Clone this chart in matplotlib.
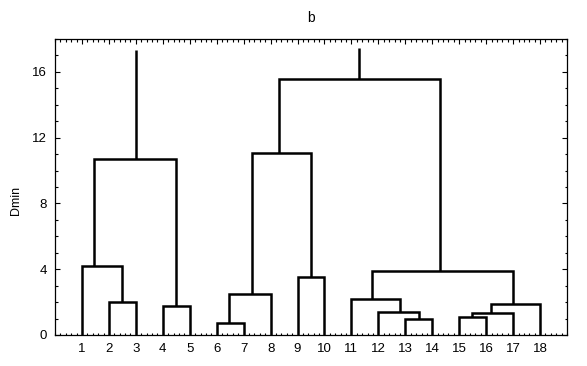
import matplotlib.pyplot as plt
from matplotlib.ticker import MultipleLocator

plt.rcParams['font.family'] = ['Liberation Sans', 'DejaVu Sans']

# leaves 1..18 on the x axis
leaves = list(range(1, 19))

# merges: name -> (left child, right child, merge height, x of the node's stem)
merge_names = ["A", "B", "C", "D", "E", "F", "G", "H",
               "I", "J", "K", "L", "M", "N", "O", "P"]
merge_left = [2, 1, 4, "B", 6, "E", 9, "F", 13, 12, 11, 15, "L", "M", "K", "H"]
merge_right = [3, "A", 5, "C", 7, 8, 10, "G", 14, "I", "J", 16, 17, 18, "N", "O"]
merge_height = [2.02, 4.2, 1.79, 10.72, 0.75, 2.5, 3.55, 11.08,
                0.97, 1.4, 2.19, 1.1, 1.36, 1.91, 3.9, 15.59]
merge_stem_x = [2.5, 1.46, 4.5, 3.0, 6.46, 7.3, 9.5, 8.32,
                13.5, 12.8, 11.76, 15.48, 16.18, 17.0, 14.29, 11.29]

# the two top clusters with the height their stem reaches
root_names = ["D", "P"]
root_top = [17.35, 17.45]

fig = plt.figure(figsize=(5.87, 3.66), dpi=100)
ax = fig.add_axes([0.0937, 0.0847, 0.8723, 0.8087])

pos = {leaf: (leaf, 0.0) for leaf in leaves}
for name, h, sx in zip(merge_names, merge_height, merge_stem_x):
    pos[name] = (sx, h)

lw = 1.8
for name, l, r, h in zip(merge_names, merge_left, merge_right, merge_height):
    xl, hl = pos[l]
    xr, hr = pos[r]
    ax.plot([xl, xl, xr, xr], [hl, h, h, hr], color="black", lw=lw,
            solid_joinstyle="miter", solid_capstyle="butt")

for name, top in zip(root_names, root_top):
    x, h = pos[name]
    ax.plot([x, x], [h, top], color="black", lw=lw, solid_capstyle="butt")

ax.set_xlim(0, 19)
ax.set_ylim(0, 18)
ax.set_xticks(leaves)
ax.set_xticklabels([str(i) for i in leaves])
ax.xaxis.set_minor_locator(MultipleLocator(0.2))
ax.set_yticks([0, 4, 8, 12, 16])
ax.yaxis.set_minor_locator(MultipleLocator(1))
ax.tick_params(which="both", direction="in", top=True, right=True,
               labelsize=9.5, width=0.8, color="black")
ax.tick_params(which="major", length=3.5, pad=6)
ax.tick_params(which="minor", length=1.8)
for s in ax.spines.values():
    s.set_linewidth(0.9)

ax.set_ylabel("Dmin", fontsize=9)
ax.yaxis.set_label_coords(-0.064, 0.456)
ax.set_title("b", fontsize=10, pad=12)

fig.savefig("out.png", dpi=100)
